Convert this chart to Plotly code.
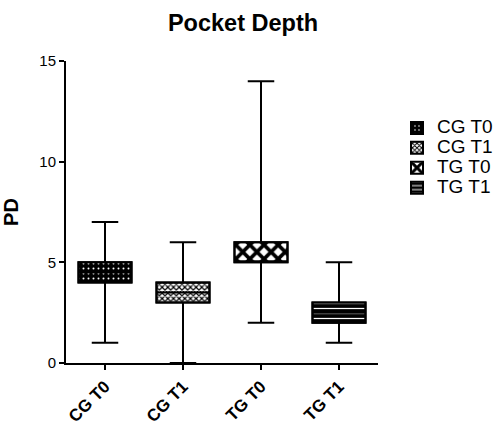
import plotly.graph_objects as go

categories = ["CG T0", "CG T1", "TG T0", "TG T1"]
q1 = [4, 3, 5, 2]
median = [4.5, 3.5, 5, 2.5]
q3 = [5, 4, 6, 3]
lower = [1, 0, 2, 1]
upper = [7, 6, 14, 5]

shapes = [".", "x", "x", "-"]
bgcols = ["black", "white", "white", "black"]
fgcols = ["white", "black", "black", "white"]
psizes = [5, 4, 10, 5]
psolid = [0.12, 0.5, 0.6, 0.25]

W, H = 502, 429
L, R, T, B = 66, 378, 61, 363

font = "Liberation Sans, Arial, sans-serif"
fig = go.Figure()
for i, c in enumerate(categories):
    fig.add_trace(go.Bar(
        x=[c], y=[q3[i] - q1[i]], base=[q1[i]],
        name='<span style="font-size:19px">' + c + '</span>', width=0.68,
        marker=dict(color=bgcols[i], line=dict(color="black", width=2),
                    pattern=dict(shape=shapes[i], bgcolor=bgcols[i], fgcolor=fgcols[i],
                                 size=psizes[i], solidity=psolid[i], fillmode="replace")),
        hoverinfo="skip"))

fig.add_trace(go.Box(
    x=categories, q1=q1, median=median, q3=q3, lowerfence=lower, upperfence=upper,
    fillcolor="rgba(0,0,0,0)", line=dict(color="black", width=2),
    whiskerwidth=0.5, width=0.68, showlegend=False, boxpoints=False))

fig.update_layout(
    width=W, height=H, barmode="overlay",
    margin=dict(l=L, r=W - R, t=T, b=H - B, autoexpand=False),
    paper_bgcolor="white", plot_bgcolor="white",
    font=dict(family=font, color="black"),
    title=dict(text="<b>Pocket Depth</b>", x=243 / W, xref="container", xanchor="center",
               y=1 - 23 / H, yref="container", yanchor="middle", font=dict(size=23.5)),
    showlegend=True,
    legend=dict(x=(397 - L) / (R - L), y=(B - 113) / (B - T), xanchor="left", yanchor="top",
                font=dict(size=13), tracegroupgap=0, itemwidth=30,
                bgcolor="rgba(0,0,0,0)"),
    xaxis=dict(range=[-0.5, 3.5], showline=True, linecolor="black", linewidth=2,
               ticks="outside", ticklen=5, tickwidth=2, tickcolor="black",
               tickangle=-45, tickfont=dict(size=17, family=font),
               showgrid=False, zeroline=False, automargin=False),
    yaxis=dict(range=[0, 15], tickvals=[0, 5, 10, 15], showline=True, linecolor="black",
               linewidth=2, ticks="outside", ticklen=5, tickwidth=2, tickcolor="black",
               tickfont=dict(size=15), showgrid=False, zeroline=False, automargin=False,
               title=dict(text="<b>PD</b>", font=dict(size=20), standoff=17)),
)
fig.update_xaxes(tickprefix="<b>", ticksuffix="</b>")
fig.update_yaxes(tickprefix="<b>", ticksuffix="</b>")
fig.write_html("out.html", config={"displayModeBar": False},
               post_script="document.body.style.margin='0';document.body.style.overflow='hidden';")
